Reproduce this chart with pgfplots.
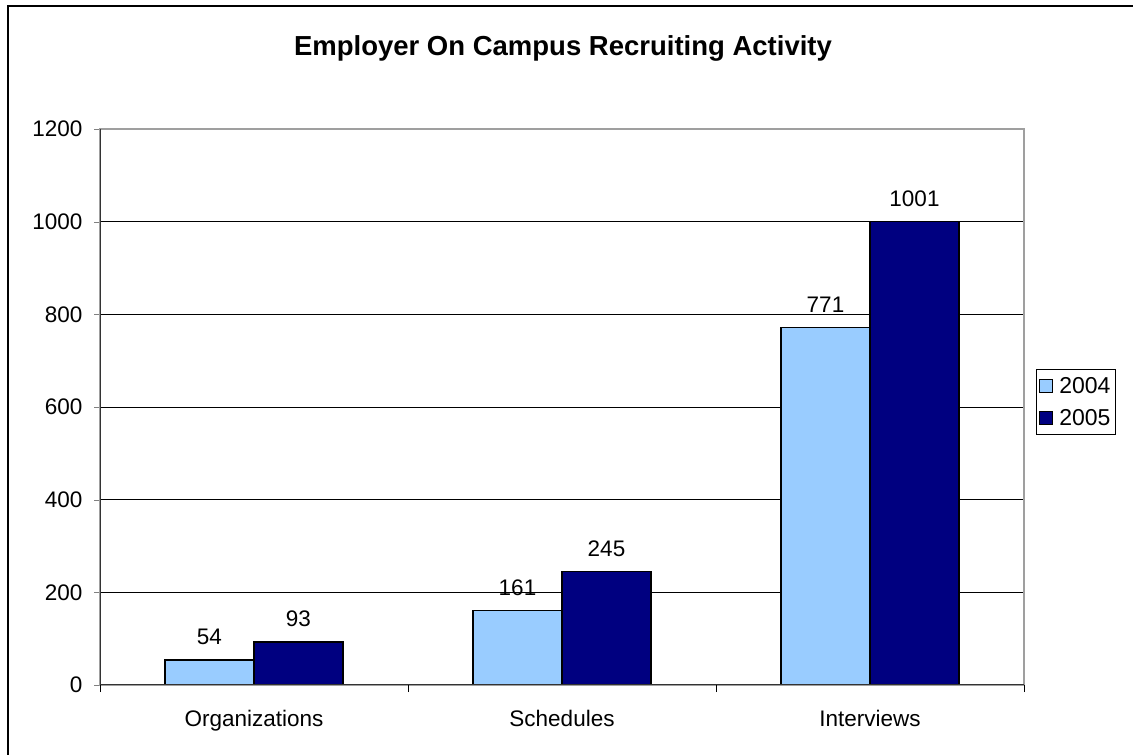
\documentclass[border=0pt]{standalone}
\usepackage{pgfplots}
\pgfplotsset{compat=1.18}
\usepackage{fontspec}
\setmainfont{Liberation Sans}
\definecolor{lightb}{HTML}{99CCFF}
\definecolor{navyb}{HTML}{000080}
\begin{document}
\begin{tikzpicture}[x=1pt,y=1pt]
\path[use as bounding box] (0,0) rectangle (1133,755);
\draw[line width=2pt] (8,0) -- (8,749) -- (1133,749);
\node[font=\fontsize{27.5}{27.5}\selectfont\bfseries] at (563,707) {Employer On Campus Recruiting Activity};
\begin{axis}[
  at={(100pt,70pt)}, anchor=south west,
  scale only axis, width=924pt, height=556pt,
  xmin=0, xmax=3, ymin=0, ymax=1200,
  ytick={0,200,...,1200},
  xtick={0.5,1.5,2.5},
  xticklabels={Organizations,Schedules,Interviews},
  x tick style={draw=none},
  extra x ticks={0,1,2,3},
  extra x tick labels={},
  extra x tick style={major tick length=7pt, tick align=outside, x tick style={draw=black,thick}, xmajorgrids=false},
  ytick pos=left, xtick pos=bottom,
  tick align=outside, major tick length=6pt,
  ymajorgrids, grid style={black, line width=0.8pt},
  axis line style={draw=gray!75, line width=1.2pt},
  tick label style={font=\fontsize{22.5}{22.5}\selectfont},
  /pgf/number format/assume math mode=true,
  /pgf/number format/1000 sep={},
  yticklabel style={xshift=-8pt},
  xticklabel style={yshift=-16pt},
  ybar, bar width=89pt,
  nodes near coords,
  every node near coord/.append style={font=\fontsize{22.5}{22.5}\selectfont, yshift=11pt},
  legend style={at={(1.0130,0.509)}, anchor=west, draw=black, line width=0.8pt,
    font=\fontsize{23}{23}\selectfont, row sep=10pt, inner xsep=3pt, inner ysep=6pt},
  legend image code/.code={\draw[#1, line width=0.6pt] (0pt,-6.5pt) rectangle (13pt,6.5pt); \path (17pt,0pt);},
  legend cell align=left,
]
\addplot[fill=lightb, draw=black, line width=1.2pt, bar shift=-44.5pt] coordinates {(0.5,54) (1.5,161) (2.5,771)};
\addplot[fill=navyb, draw=black, line width=1.2pt, bar shift=44.5pt] coordinates {(0.5,93) (1.5,245) (2.5,1001)};
\legend{2004,2005}
\draw[black!80, line width=1.5pt] (rel axis cs:0,1) -- (rel axis cs:0,0) -- (rel axis cs:1,0);
\end{axis}
\end{tikzpicture}
\end{document}
